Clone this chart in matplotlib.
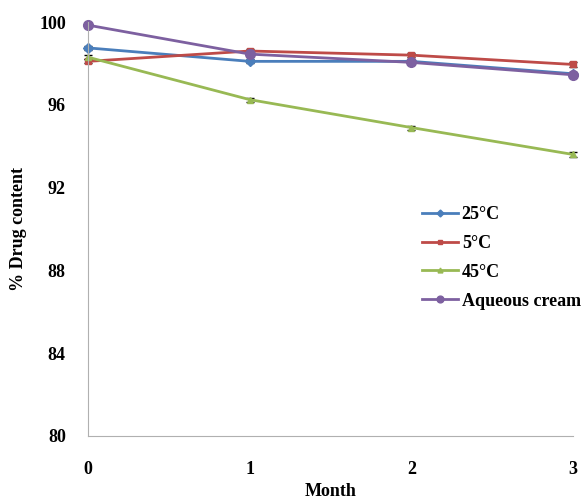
import matplotlib.pyplot as plt

months = [0, 1, 2, 3]
temp_25 = [98.75, 98.1, 98.1, 97.5]
temp_5 = [98.1, 98.6, 98.4, 97.95]
temp_45 = [98.3, 96.25, 94.9, 93.6]
aqueous = [99.85, 98.45, 98.05, 97.45]
err = [0.1, 0.1, 0.1, 0.1]

plt.rcParams["font.family"] = "Liberation Serif"
plt.rcParams["font.weight"] = "bold"

fig = plt.figure(figsize=(5.83, 5.01), dpi=100)
ax = fig.add_axes([0.151, 0.13, 0.832, 0.826])

series = [
    (temp_25, "#4a7ebb", "D", "25°C"),
    (temp_5, "#be4b48", "s", "5°C"),
    (temp_45, "#98b954", "^", "45°C"),
    (aqueous, "#7d60a0", "o", "Aqueous cream"),
]

for values, color, marker, label in series:
    ax.errorbar(
        months,
        values,
        yerr=err,
        color=color,
        marker=marker,
        markersize=5 if marker != "o" else 7,
        linewidth=2,
        ecolor="black",
        elinewidth=1,
        capsize=3,
        label=label,
        clip_on=False
    )

ax.set_xlim(0, 3)
ax.set_ylim(80, 100)
ax.set_xticks(months)
ax.set_yticks(range(80, 101, 4))
ax.tick_params(length=0, labelsize=13)
ax.tick_params(axis="y", pad=16)
ax.tick_params(axis="x", pad=18)
for lab in ax.get_xticklabels() + ax.get_yticklabels():
    lab.set_fontweight("bold")

for side in ["top", "right"]:
    ax.spines[side].set_visible(False)
for side in ["left", "bottom"]:
    ax.spines[side].set_color("#b0b0b0")

ax.set_xlabel("Month", fontsize=13, fontweight="bold")
ax.set_ylabel("% Drug content", fontsize=13, fontweight="bold")
ax.xaxis.set_label_coords(0.5, -0.115)
ax.yaxis.set_label_coords(-0.125, 0.5)

handles, labels = ax.get_legend_handles_labels()
handles = [h[0] for h in handles]
ax.legend(
    handles,
    labels,
    loc="center left",
    bbox_to_anchor=(0.655, 0.43),
    frameon=False,
    prop={"weight": "bold", "size": 13},
    handlelength=2,
    handletextpad=0.2,
    labelspacing=0.65,
    markerscale=0.7
)

fig.savefig("out.png", dpi=100)
